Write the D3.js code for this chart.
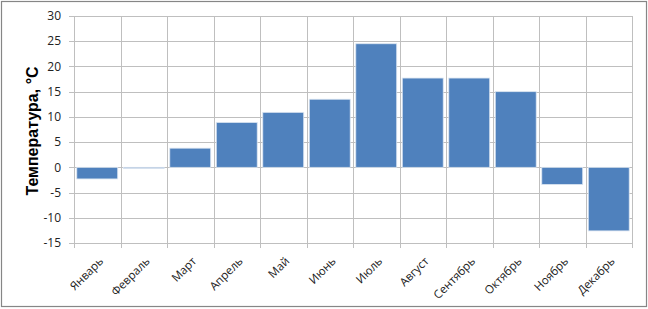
<!DOCTYPE html>
<html><head><meta charset="utf-8">
<script src="https://cdn.jsdelivr.net/npm/d3@7"></script>
<style>body{margin:0;background:#fff}svg{display:block}</style>
</head><body>
<script>
const months = ["Январь","Февраль","Март","Апрель","Май","Июнь","Июль","Август","Сентябрь","Октябрь","Ноябрь","Декабрь"];
const temps = [-2.3, -0.2, 3.8, 8.9, 10.9, 13.5, 24.5, 17.7, 17.7, 15.0, -3.4, -12.6];
const yTicks = [-15, -10, -5, 0, 5, 10, 15, 20, 25, 30];
const yTitle = "Температура, °С";

const W = 648, H = 309;
const m = {l: 74, r: 16, t: 16, b: 66};
const svg = d3.select("body").append("svg").attr("width", W).attr("height", H);
svg.append("rect").attr("x", 1.5).attr("y", 1.5).attr("width", W - 3).attr("height", H - 4)
  .attr("fill", "#fff").attr("stroke", "#868686").attr("stroke-width", 1.2);

const x = d3.scaleBand().domain(months).range([m.l, W - m.r]).paddingInner(0.12).paddingOuter(0.06);
const xb = d3.scaleBand().domain(months).range([m.l, W - m.r]);
const y = d3.scaleLinear().domain([-15, 30]).range([H - m.b, m.t]);

const g = svg.append("g");
g.selectAll("line.h").data(yTicks).join("line")
  .attr("x1", m.l - 5).attr("x2", W - m.r)
  .attr("y1", d => Math.round(y(d)) + 0.5).attr("y2", d => Math.round(y(d)) + 0.5)
  .attr("stroke", "#bfbfbf");
const bounds = months.map(d => xb(d)).concat([W - m.r]);
g.selectAll("line.v").data(bounds).join("line")
  .attr("x1", d => Math.round(d) + 0.5).attr("x2", d => Math.round(d) + 0.5)
  .attr("y1", m.t).attr("y2", H - m.b + 5)
  .attr("stroke", "#bfbfbf");

svg.selectAll("rect.bar").data(temps).join("rect")
  .attr("x", (d, i) => x(months[i]))
  .attr("width", x.bandwidth())
  .attr("y", d => y(Math.max(0, d)))
  .attr("height", d => Math.max(1, Math.abs(y(d) - y(0))))
  .attr("fill", "#4f81bd").attr("stroke", "#dbe5f1").attr("stroke-width", 0.8);

svg.selectAll("text.yt").data(yTicks).join("text")
  .attr("x", m.l - 13).attr("y", d => y(d)).attr("dy", "0.35em")
  .attr("text-anchor", "end").attr("font-family", "Open Sans, Liberation Sans, sans-serif")
  .attr("font-size", 12).attr("fill", "#222").text(d => d);

svg.selectAll("text.xt").data(months).join("text")
  .attr("transform", d => `translate(${xb(d) + xb.bandwidth() / 2 + 4},${H - m.b + 16}) rotate(-45)`)
  .attr("text-anchor", "end").attr("dy", "0.35em")
  .attr("font-family", "Open Sans, Liberation Sans, sans-serif")
  .attr("font-size", 11.5).attr("fill", "#222").text(d => d);

svg.append("text")
  .attr("transform", `translate(38,131) rotate(-90)`)
  .attr("text-anchor", "middle")
  .attr("font-family", "Liberation Sans, Arial, sans-serif").attr("font-weight", "bold")
  .attr("font-size", 16).attr("fill", "#000").text(yTitle);
</script>
</body></html>
